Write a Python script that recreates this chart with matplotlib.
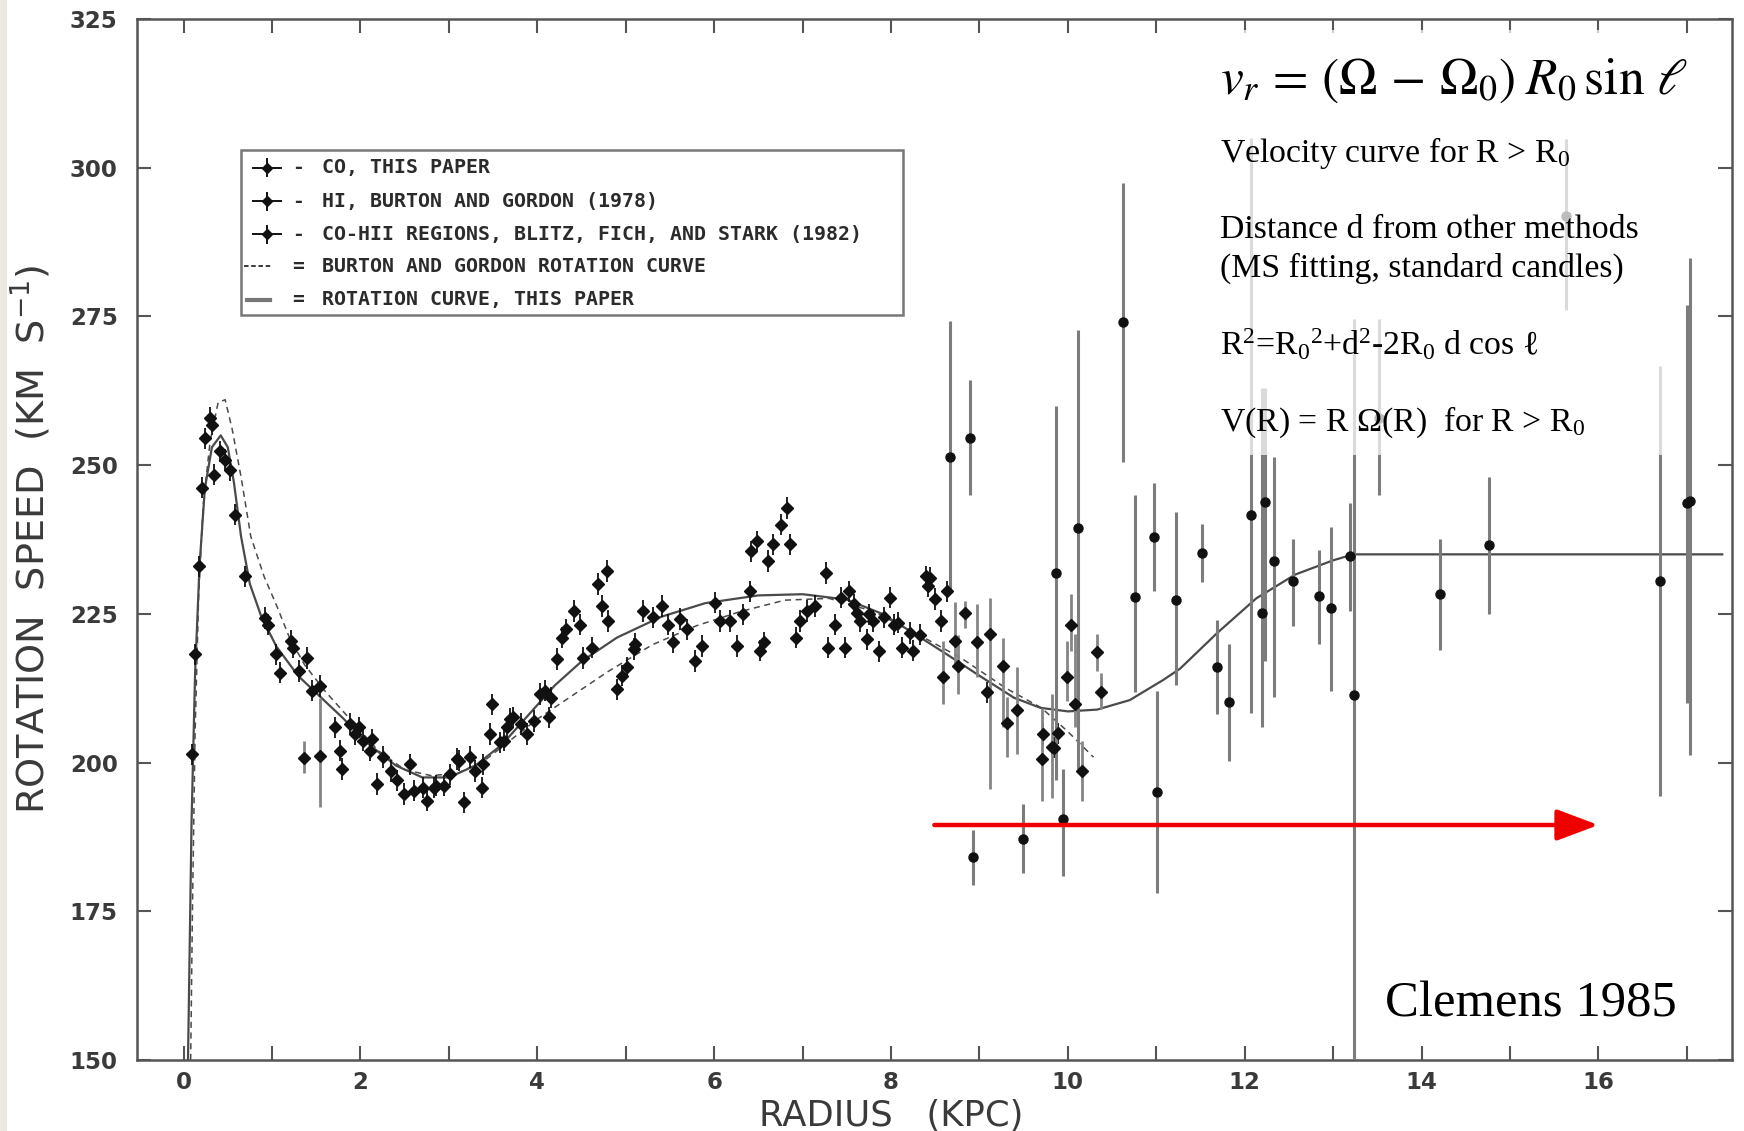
import numpy as np
import matplotlib
matplotlib.use('Agg')
import matplotlib.pyplot as plt
import matplotlib.patches as patches

plt.rcParams['mathtext.fontset'] = 'custom'
plt.rcParams['mathtext.rm'] = 'Liberation Serif'
plt.rcParams['mathtext.it'] = 'Liberation Serif:italic'

### data (R in kpc, V in km/s)
# CO + HI points, small crosses
co_r = [0.09, 0.13, 0.17, 0.21, 0.24, 0.30, 0.32, 0.34, 0.41, 0.47, 0.53, 0.58, 0.70, 0.92, 0.96,
        1.05, 1.09, 1.22, 1.24, 1.30, 1.39, 1.45, 1.54, 1.71, 1.77, 1.79, 1.88, 1.94, 1.98, 2.03,
        2.11, 2.13, 2.19, 2.26, 2.34, 2.41, 2.49, 2.56, 2.60, 2.71, 2.75, 2.83, 2.86, 2.94, 3.01,
        3.09, 3.11, 3.17, 3.24, 3.30, 3.37, 3.39, 3.47, 3.49, 3.58, 3.62, 3.66, 3.69, 3.73, 3.81,
        3.88, 3.96, 4.03, 4.09, 4.13, 4.16, 4.22, 4.28, 4.33, 4.41, 4.48, 4.52, 4.62, 4.69, 4.73,
        4.79, 4.80, 4.90, 4.96, 5.01, 5.09, 5.11, 5.20, 5.31, 5.41, 5.48, 5.54, 5.61, 5.69, 5.78,
        5.86, 6.01, 6.07, 6.18, 6.26, 6.33, 6.41, 6.42, 6.48, 6.52, 6.56, 6.61, 6.67, 6.76, 6.82,
        6.86, 6.92, 6.97, 7.05, 7.14, 7.26, 7.29, 7.37, 7.44, 7.48, 7.52, 7.58, 7.61, 7.65, 7.73,
        7.75, 7.80, 7.86, 7.92, 7.99, 8.03, 8.08, 8.12, 8.22, 8.25, 8.33, 8.39, 8.42, 8.44, 8.50,
        8.56, 8.63, 9.09, 9.72, 9.84, 9.89]
co_v = [201.4, 218.2, 233.0, 246.2, 254.5, 257.9, 256.8, 248.4, 252.3, 250.9, 249.2, 241.7, 231.3, 224.3, 223.2,
        218.2, 215.1, 220.4, 219.3, 215.4, 217.6, 212.1, 212.9, 205.9, 202.0, 198.9, 206.5, 204.8, 205.9, 203.7,
        202.0, 203.9, 196.4, 200.9, 198.6, 197.0, 194.7, 199.7, 195.3, 195.8, 193.6, 195.8, 196.1, 196.1, 198.0,
        200.6, 200.3, 193.3, 200.9, 198.6, 195.8, 199.7, 204.8, 209.8, 203.4, 203.7, 205.9, 207.3, 207.6, 206.5,
        204.8, 207.0, 211.5, 212.1, 207.6, 210.9, 217.4, 221.0, 222.4, 225.5, 223.2, 217.6, 219.3, 230.0, 226.3,
        232.2, 223.8, 212.3, 214.6, 216.0, 219.1, 219.9, 225.5, 224.4, 226.3, 223.2, 220.2, 224.1, 222.4, 217.1,
        219.6, 226.9, 223.8, 223.8, 219.6, 224.9, 228.8, 235.5, 237.2, 218.8, 220.2, 233.9, 236.7, 240.0, 242.8,
        236.7, 221.0, 223.8, 225.5, 226.3, 231.9, 219.3, 223.2, 227.7, 219.3, 228.8, 226.6, 225.2, 223.8, 220.7,
        224.9, 223.8, 218.7, 224.4, 227.7, 223.2, 223.5, 219.3, 221.8, 218.8, 221.5, 231.3, 229.7, 231.0, 227.5,
        223.8, 228.8, 211.8, 204.8, 202.5, 204.9]

# CO points with visible error bars (value, low end, high end)
cob_r = [1.36, 1.54, 8.59, 8.72, 8.76, 8.84, 8.97, 9.12, 9.27, 9.31, 9.42, 9.71, 9.82, 9.99, 10.03, 10.08, 10.16, 10.33, 10.37]
cob_v = [200.8, 201.1, 214.3, 220.5, 216.2, 225.2, 220.2, 221.6, 216.2, 206.7, 208.9, 200.6, 202.6, 214.3, 223.1, 209.9, 198.6, 218.6, 211.9]
cob_lo = [198.3, 192.5, 209.8, 216.0, 211.5, 222.7, 214.3, 195.6, 205.9, 200.9, 201.4, 193.6, 194.0, 210.4, 218.8, 205.9, 193.6, 215.4, 209.0]
cob_hi = [203.6, 210.9, 220.4, 227.0, 221.4, 227.2, 226.6, 227.7, 221.0, 211.0, 216.0, 209.2, 211.5, 220.4, 228.3, 221.6, 203.7, 221.6, 215.0]

# CO-HII regions (Blitz, Fich and Stark 1982)
hii_r = [8.67, 8.89, 8.93, 9.49, 9.87, 9.94, 10.12, 10.62, 10.76, 10.97, 11.01, 11.22, 11.52, 11.69, 11.82,
         12.07, 12.20, 12.23, 12.33, 12.55, 12.84, 12.97, 13.19, 13.24, 13.52, 14.21, 14.76, 15.63, 16.70, 17.00, 17.03]
hii_v = [251.3, 254.6, 184.1, 187.2, 231.9, 190.5, 239.4, 274.1, 227.8, 237.9, 195.0, 227.3, 235.2, 216.0, 210.1,
         241.6, 225.1, 243.8, 233.9, 230.5, 228.0, 226.0, 234.7, 211.3, 258.0, 228.3, 236.5, 291.8, 230.5, 243.6, 244.0]
hii_lo = [229.0, 245.0, 179.4, 181.4, 197.0, 181.0, 199.0, 250.5, 211.9, 228.8, 178.1, 213.0, 230.3, 208.1, 200.2,
          208.4, 206.0, 217.0, 211.0, 222.9, 219.9, 212.0, 225.4, 150.0, 245.0, 218.9, 224.9, 276.0, 194.3, 210.0, 201.2]
hii_hi = [274.3, 264.3, 188.7, 193.0, 260.0, 199.0, 272.8, 297.4, 245.0, 247.0, 212.0, 242.1, 240.1, 223.9, 219.9,
          305.0, 263.0, 263.0, 251.4, 237.6, 235.7, 239.6, 243.6, 274.5, 274.5, 237.6, 248.0, 304.8, 266.7, 277.0, 284.9]

# rotation curve, this paper
rc_r = [0.05, 0.09, 0.13, 0.18, 0.24, 0.32, 0.42, 0.50, 0.57, 0.65, 0.75, 0.88, 1.05, 1.30, 1.55, 1.80,
        2.10, 2.40, 2.70, 3.00, 3.30, 3.60, 3.90, 4.20, 4.50, 4.90, 5.40, 5.90, 6.50, 7.00, 7.50, 7.90,
        8.25, 8.63, 9.01, 9.39, 9.69, 10.00, 10.33, 10.70, 11.08, 11.27, 11.69, 12.13, 12.57, 13.00, 13.23, 17.40]
rc_v = [150.0, 190.0, 215.0, 233.0, 246.0, 253.0, 255.0, 253.0, 247.0, 238.0, 230.0, 224.5, 219.5, 214.5, 211.0, 207.5,
        203.0, 199.5, 197.5, 197.5, 199.5, 203.0, 208.0, 213.0, 217.0, 221.0, 224.5, 226.8, 228.1, 228.3, 227.4, 225.0,
        221.8, 218.2, 214.5, 210.9, 209.2, 208.6, 208.9, 210.5, 213.9, 215.8, 221.8, 227.6, 231.6, 234.0, 235.0, 235.0]

# Burton and Gordon rotation curve
bg_r = [0.08, 0.10, 0.13, 0.17, 0.22, 0.30, 0.39, 0.47, 0.55, 0.65, 0.76, 0.91, 1.06, 1.20, 1.37, 1.60, 1.90,
        2.20, 2.50, 2.80, 3.10, 3.40, 3.70, 4.00, 4.40, 4.80, 5.30, 5.80, 6.30, 6.80, 7.30, 7.80, 8.30, 8.80,
        9.30, 9.70, 10.00, 10.29]
bg_v = [150.0, 175.0, 205.0, 228.0, 243.0, 254.0, 260.5, 261.0, 256.0, 248.0, 238.0, 231.3, 226.1, 220.9, 216.4, 212.0, 207.0,
        202.0, 198.8, 197.8, 198.2, 200.3, 203.8, 207.3, 211.3, 215.3, 219.8, 223.0, 225.4, 227.3, 227.6, 225.4, 221.6, 217.5,
        212.5, 209.2, 205.2, 200.9]

legend_labels = ['CO, THIS PAPER', 'HI, BURTON AND GORDON (1978)',
                 'CO-HII REGIONS, BLITZ, FICH, AND STARK (1982)',
                 'BURTON AND GORDON ROTATION CURVE', 'ROTATION CURVE, THIS PAPER']

ink = '#2b2b2b'

fig = plt.figure(figsize=(17.44, 11.31), dpi=100)
fig.patches.append(patches.Rectangle((0, 0), 7/1744., 1, transform=fig.transFigure,
                                     facecolor='#ECE9E1', edgecolor='none', zorder=0))
ax = fig.add_axes([0.0786, 0.0628, 0.9145, 0.9204])
ax.set_xlim(-0.526, 17.51)
ax.set_ylim(150, 325)

# curves
ax.plot(rc_r, rc_v, color='#4a4a4a', lw=1.6, zorder=2)
ax.plot(bg_r, bg_v, color='#4a4a4a', lw=1.1, ls=(0, (4, 3)), zorder=2)

# data
ax.errorbar(co_r, co_v, xerr=0.05, yerr=1.8, fmt='D', ms=6, color='#111111',
            elinewidth=1.3, capsize=0, zorder=3)
cob_err = [np.array(cob_v) - np.array(cob_lo), np.array(cob_hi) - np.array(cob_v)]
ax.errorbar(cob_r, cob_v, yerr=cob_err, xerr=0.04, fmt='D', ms=6, color='#111111',
            ecolor='#858585', elinewidth=2, capsize=0, zorder=3)
hii_err = [np.array(hii_v) - np.array(hii_lo), np.array(hii_hi) - np.array(hii_v)]
ax.errorbar(hii_r, hii_v, yerr=hii_err, fmt='o', ms=6.5, color='#111111',
            ecolor='#7c7c7c', elinewidth=2.2, capsize=0, zorder=3)

# legend box drawn by hand like the original
ax.add_patch(patches.Rectangle((0.65, 275.2), 7.48, 27.8, facecolor='white', edgecolor='#777777',
                               lw=1.8, zorder=4))
rows = [300.0, 294.4, 288.8, 283.4, 277.8]
for i, lab in enumerate(legend_labels):
    y = rows[i]
    if i < 3:
        ax.errorbar([0.94], [y], xerr=0.17, yerr=1.6, fmt='D', ms=5.5, color='#111111',
                    elinewidth=1.4, capsize=0, zorder=5)
        sep = '-'
    elif i == 3:
        ax.plot([0.68, 1.0], [y, y], color=ink, lw=1.3, ls=(0, (2.5, 1.5)), zorder=5)
        sep = '='
    else:
        ax.plot([0.72, 0.98], [y, y], color='#777777', lw=3, zorder=5)
        sep = '='
    ax.text(1.29, y, sep, fontsize=14, fontweight='bold', family='DejaVu Sans Mono',
            color=ink, ha='center', va='center', zorder=5)
    ax.text(1.56, y, lab, fontsize=14.3, fontweight='bold', family='DejaVu Sans Mono',
            color=ink, ha='left', va='center', zorder=5)

# red arrow
ax.annotate('', xy=(16.0, 189.5), xytext=(8.49, 189.5),
            arrowprops=dict(arrowstyle='-|>,head_length=0.8,head_width=0.3', color='#ee0000',
                            lw=3.2, mutation_scale=32, shrinkA=0, shrinkB=0), zorder=6)

# axes styling
for s in ax.spines.values():
    s.set_color('#555555')
    s.set_linewidth(1.8)
ax.set_xticks(np.arange(0, 17, 2))
ax.set_xticks(np.arange(0, 18, 1), minor=True)
ax.set_yticks(np.arange(150, 326, 25))
ax.tick_params(which='both', direction='in', top=True, right=True, length=10, width=1.5,
               color='#555555')
ax.tick_params(axis='y', pad=14, labelsize=16.5, labelcolor='#3a3a3a')
ax.tick_params(axis='x', pad=8, labelsize=16.5, labelcolor='#3a3a3a')
for t in ax.get_xticklabels() + ax.get_yticklabels():
    t.set_fontweight('bold')

fig.text(0.511, 0.0135, 'RADIUS   (KPC)', fontsize=25.5, color='#3a3a3a', ha='center', va='center')
fig.text(0.0178, 0.523, r'ROTATION  SPEED  (KM  S$^{-1}$)', fontsize=27.5, color='#3a3a3a',
         ha='center', va='center', rotation=90, math_fontfamily='dejavusans')

# annotation panel on the right
fig.patches.append(patches.Rectangle((0.695, 0.598), 0.263, 0.3755, transform=fig.transFigure,
                                     facecolor='white', edgecolor='none', alpha=0.72, zorder=5))
serif = ['Liberation Serif', 'DejaVu Serif']
fig.text(0.6995, 0.929, r'$v_r\,=\,(\Omega\,-\,\Omega_0)\;R_0\,\sin\,\ell$', fontsize=37,
         math_fontfamily='stix', color='black', ha='left', va='center', zorder=6)
fig.text(0.6995, 0.8643, r'Velocity curve for R > R$_0$', fontsize=24.3, family=serif,
         ha='left', va='center', zorder=6)
fig.text(0.6995, 0.7966, 'Distance d from other methods', fontsize=24.3, family=serif,
         ha='left', va='center', zorder=6)
fig.text(0.6995, 0.763, '(MS fitting, standard candles)', fontsize=24.3, family=serif,
         ha='left', va='center', zorder=6)
fig.text(0.6995, 0.695, r'R$^2$=R$_0$$^2$+d$^2$-2R$_0$ d cos ℓ', fontsize=24.3, family=serif,
         ha='left', va='center', zorder=6)
fig.text(0.6995, 0.6263, r'V(R) = R Ω(R)  for R > R$_0$', fontsize=24.3, family=serif,
         ha='left', va='center', zorder=6)
fig.text(0.794, 0.1121, 'Clemens 1985', fontsize=36.5, family=serif,
         ha='left', va='center', zorder=6)

fig.savefig('out.png', dpi=100)
plt.close()
